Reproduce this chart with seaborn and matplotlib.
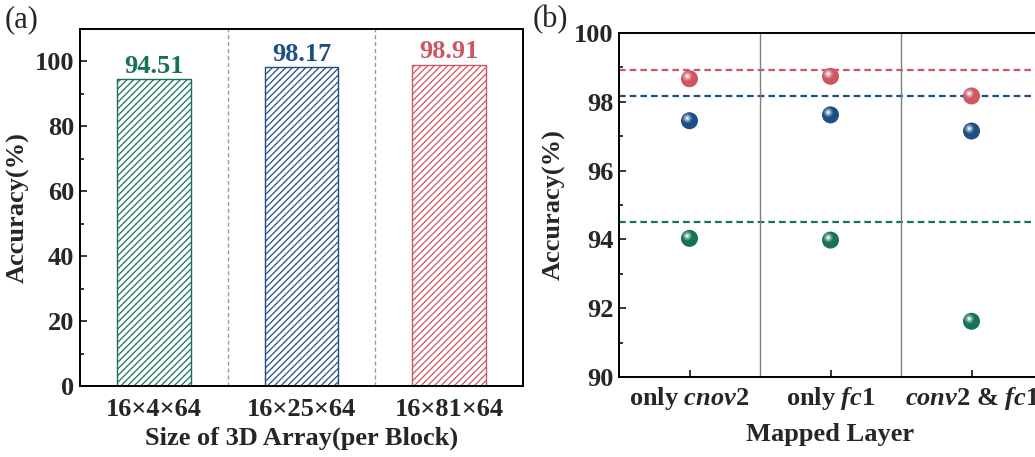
import numpy as np
import pandas as pd
import matplotlib
matplotlib.use("Agg")
import matplotlib.pyplot as plt
import matplotlib.transforms as mtrans
from matplotlib.ticker import MultipleLocator
import seaborn as sns

# ---------------- data ----------------
array_sizes = ["16×4×64", "16×25×64", "16×81×64"]
array_acc = [94.51, 98.17, 98.91]
series_colors = ["#16705a", "#1d4f84", "#cf5563"]

layers = ["only $\\mathit{cnov}$2", "only $\\mathit{fc}$1", "$\\mathit{conv}$2 & $\\mathit{fc}$1"]
acc_small = [94.03, 93.98, 91.62]     # 16x4x64
acc_mid = [97.45, 97.62, 97.15]       # 16x25x64
acc_large = [98.67, 98.74, 98.17]     # 16x81x64

# ---------------- style ----------------
sns.set_theme(style="ticks")
plt.rcParams["font.family"] = ["Liberation Serif", "DejaVu Serif"]
plt.rcParams["font.weight"] = "bold"
plt.rcParams["mathtext.fontset"] = "custom"
plt.rcParams["mathtext.rm"] = "Liberation Serif:bold"
plt.rcParams["mathtext.it"] = "Liberation Serif:italic:bold"
plt.rcParams["mathtext.bf"] = "Liberation Serif:bold"
plt.rcParams["hatch.linewidth"] = 0.9
plt.rcParams["axes.linewidth"] = 1.4

FS = 19
fig = plt.figure(figsize=(10.35, 4.57), dpi=100)
axA = fig.add_axes([80 / 1035, 71 / 457, 443 / 1035, 357 / 457])
axB = fig.add_axes([619 / 1035, 80 / 457, 423 / 1035, 344 / 457])

# ---------------- panel (a) ----------------
dfa = pd.DataFrame({"size": array_sizes, "acc": array_acc})
sns.barplot(data=dfa, x="size", y="acc", hue="size", palette=series_colors,
            legend=False, width=0.5, ax=axA)
for patch, c in zip(axA.patches, series_colors):
    patch.set_facecolor("none")
    patch.set_edgecolor(c)
    patch.set_hatch("/////")
    patch.set_linewidth(1.0)
for i, (v, c) in enumerate(zip(array_acc, series_colors)):
    axA.text(i, v + 0.5, f"{v:.2f}", ha="center", va="bottom", color=c,
             fontsize=FS, fontweight="bold")
for xs in [0.5, 1.5]:
    axA.axvline(xs, color="#9a9a9a", lw=1.0, ls=(0, (3, 2)), zorder=0)
axA.set_xlim(-0.5, 2.5)
axA.set_ylim(0, 110)
axA.yaxis.set_major_locator(MultipleLocator(20))
axA.yaxis.set_minor_locator(MultipleLocator(10))
axA.tick_params(axis="y", which="both", direction="in", left=True, right=False,
                labelsize=FS, width=1.3, pad=4)
axA.tick_params(axis="y", which="major", length=5)
axA.tick_params(axis="y", which="minor", length=3)
axA.tick_params(axis="x", which="both", bottom=False, labelsize=FS, pad=3)
axA.set_xlabel("Size of 3D Array(per Block)", fontsize=FS, fontweight="bold", labelpad=4)
axA.set_ylabel("Accuracy(%)", fontsize=FS, fontweight="bold", labelpad=4)
for lab in axA.get_xticklabels() + axA.get_yticklabels():
    lab.set_fontweight("bold")
for sp in axA.spines.values():
    sp.set_visible(True)
    sp.set_color("black")

# ---------------- panel (b) ----------------
dfb = pd.DataFrame({
    "layer": list(range(len(layers))) * 3,
    "acc": acc_small + acc_mid + acc_large,
    "series": [array_sizes[0]] * 3 + [array_sizes[1]] * 3 + [array_sizes[2]] * 3,
})
for v, c in zip(array_acc, series_colors):
    axB.axhline(v, color=c, lw=1.6, ls=(0, (3, 1.8)), zorder=1)
for xs in [0.5, 1.5]:
    axB.axvline(xs, color="#808080", lw=1.0, zorder=1)

pal = dict(zip(array_sizes, series_colors))
sns.scatterplot(data=dfb, x="layer", y="acc", hue="series", palette=pal,
                s=150, edgecolor="none", legend=False, ax=axB, zorder=3)
# glossy sphere highlight
n_layers = 6
for k in range(1, n_layers + 1):
    t = k / n_layers
    size = 60 * (1 - t) ** 1.3 + 2.5
    off = mtrans.ScaledTranslation(-1.6 / 72, 1.8 / 72, fig.dpi_scale_trans)
    w = 0.15 + 0.85 * t ** 1.5
    shade = {key: tuple(np.array(matplotlib.colors.to_rgb(col)) * (1 - w) + w)
             for key, col in pal.items()}
    sns.scatterplot(data=dfb, x="layer", y="acc", hue="series", palette=shade,
                    s=size, edgecolor="none", legend=False, ax=axB, zorder=3 + k,
                    transform=axB.transData + off, alpha=0.55 if k < n_layers else 1.0)

axB.set_xlim(-0.5, 2.5)
axB.set_ylim(90, 100)
axB.set_xticks(range(len(layers)))
axB.set_xticklabels(layers)
axB.yaxis.set_major_locator(MultipleLocator(2))
axB.yaxis.set_minor_locator(MultipleLocator(1))
axB.tick_params(axis="y", which="both", direction="in", left=True, right=False,
                labelsize=FS, width=1.3, pad=4)
axB.tick_params(axis="y", which="major", length=5)
axB.tick_params(axis="y", which="minor", length=3)
axB.tick_params(axis="x", which="major", direction="in", length=5, width=1.3,
                labelsize=FS, pad=6)
axB.set_xlabel("Mapped Layer", fontsize=FS, fontweight="bold", labelpad=8)
axB.set_ylabel("Accuracy(%)", fontsize=FS, fontweight="bold", labelpad=6)
for lab in axB.get_xticklabels() + axB.get_yticklabels():
    lab.set_fontweight("bold")
for sp in axB.spines.values():
    sp.set_visible(True)
    sp.set_color("black")

fig.text(5 / 1035, 1 - 20 / 457, "(a)", fontsize=22, fontweight="normal", va="center", ha="left")
fig.text(533 / 1035, 1 - 20 / 457, "(b)", fontsize=22, fontweight="normal", va="center", ha="left")

fig.savefig("out.png", dpi=100)
